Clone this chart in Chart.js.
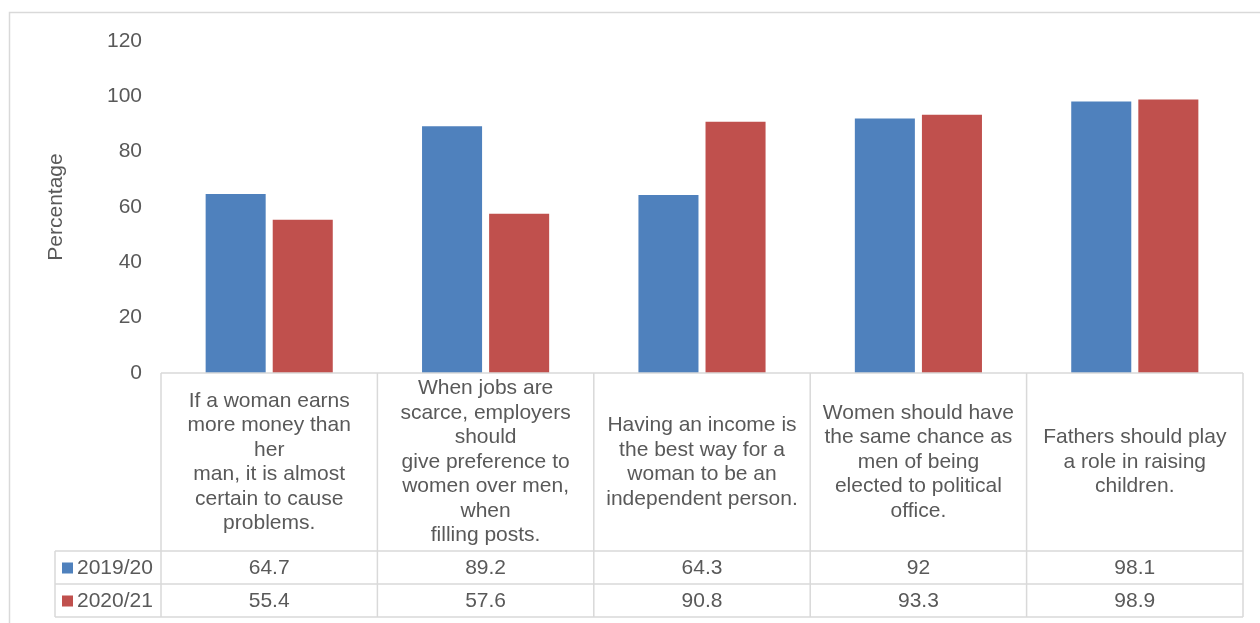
<!DOCTYPE html>
<html>
<head>
<meta charset="utf-8">
<script src="https://cdn.jsdelivr.net/npm/chart.js@4/dist/chart.umd.min.js"></script>
<style>
  html, body { margin: 0; padding: 0; background: #ffffff; }
  #wrap { position: relative; width: 1260px; height: 623px; }
</style>
</head>
<body>
<div id="wrap"><canvas id="chart"></canvas></div>
<script>
// Survey statements (line breaks as shown in the data table)
const categories = [
  ["If a woman earns", "more money than", "her", "man, it is almost", "certain to cause", "problems."],
  ["When jobs are", "scarce, employers", "should", "give preference to", "women over men,", "when", "filling posts."],
  ["Having an income is", "the best way for a", "woman to be an", "independent person."],
  ["Women should have", "the same chance as", "men of being", "elected to political", "office."],
  ["Fathers should play", "a role in raising", "children."]
];
const seriesNames = ["2019/20", "2020/21"];
const values2019 = [64.7, 89.2, 64.3, 92, 98.1];
const values2020 = [55.4, 57.6, 90.8, 93.3, 98.9];
const yTicks = [0, 20, 40, 60, 80, 100, 120];

const BLUE = '#4f81bd';
const RED = '#c0504d';
const TEXT = '#595959';
const LINE = '#d9d9d9';
const FONT = '"Liberation Sans", Arial, sans-serif';

// Excel-style data table drawn beneath the category axis
const dataTable = {
  id: 'dataTable',
  beforeDraw(chart) {
    const ctx = chart.ctx;
    ctx.save();
    ctx.strokeStyle = LINE;
    ctx.lineWidth = 1.5;
    ctx.strokeRect(9.5, 12.5, 1400, 800);
    ctx.restore();
  },
  afterDraw(chart) {
    const ctx = chart.ctx;
    const x = chart.scales.x;
    const area = chart.chartArea;
    const n = chart.data.labels.length;
    const colW = (area.right - area.left) / n;
    const top = area.bottom;
    const headBottom = top + 178;
    const row1Bottom = headBottom + 33;
    const row2Bottom = row1Bottom + 33;
    const legendLeft = 55;

    ctx.save();
    ctx.strokeStyle = LINE;
    ctx.lineWidth = 1.5;
    ctx.beginPath();
    // horizontal rules
    ctx.moveTo(area.left, top); ctx.lineTo(area.right, top);
    [headBottom, row1Bottom, row2Bottom].forEach(y => {
      ctx.moveTo(legendLeft, y); ctx.lineTo(area.right, y);
    });
    // vertical rules
    for (let i = 0; i <= n; i++) {
      const vx = area.left + i * colW;
      ctx.moveTo(vx, top); ctx.lineTo(vx, row2Bottom);
    }
    ctx.moveTo(legendLeft, headBottom); ctx.lineTo(legendLeft, row2Bottom);
    ctx.stroke();

    ctx.fillStyle = TEXT;
    ctx.font = '21px ' + FONT;
    ctx.textAlign = 'center';
    ctx.textBaseline = 'middle';
    const lh = 24.5;
    chart.data.labels.forEach((lines, i) => {
      const cx = x.getPixelForValue(i);
      const cy = (top + headBottom) / 2;
      const startY = cy - (lines.length - 1) * lh / 2;
      lines.forEach((t, k) => ctx.fillText(t, cx, startY + k * lh));
    });

    const rows = [[row1Bottom - 33, row1Bottom], [row2Bottom - 33, row2Bottom]];
    chart.data.datasets.forEach((ds, r) => {
      const cy = (rows[r][0] + rows[r][1]) / 2 + 0.5;
      ctx.textAlign = 'center';
      ds.data.forEach((v, i) => {
        ctx.fillText(String(v), x.getPixelForValue(i), cy);
      });
      ctx.fillStyle = ds.backgroundColor;
      ctx.fillRect(62, cy - 5.5, 11, 11);
      ctx.fillStyle = TEXT;
      ctx.textAlign = 'left';
      ctx.fillText(ds.label, 77, cy);
    });
    ctx.restore();
  }
};

new Chart(document.getElementById('chart'), {
  type: 'bar',
  data: {
    labels: categories,
    datasets: [
      { label: seriesNames[0], data: values2019, backgroundColor: BLUE },
      { label: seriesNames[1], data: values2020, backgroundColor: RED }
    ]
  },
  options: {
    responsive: true,
    maintainAspectRatio: false,
    animation: false,
    layout: { padding: { left: 0, right: 17, top: 41, bottom: 250 } },
    datasets: { bar: { categoryPercentage: 0.62, barPercentage: 0.895 } },
    plugins: { legend: { display: false }, tooltip: { enabled: false } },
    scales: {
      x: {
        grid: { display: false },
        border: { display: false },
        ticks: { display: false },
        afterFit(scale) { scale.height = 0; }
      },
      y: {
        min: 0,
        max: 120,
        afterBuildTicks(scale) { scale.ticks = yTicks.map(v => ({ value: v })); },
        afterFit(scale) { scale.width = 161; },
        grid: { display: false, drawTicks: false },
        border: { display: false },
        ticks: { color: TEXT, padding: 19, font: { family: FONT, size: 21 } },
        title: {
          display: true,
          text: 'Percentage',
          color: TEXT,
          font: { family: FONT, size: 21 },
          padding: { top: 44, bottom: 0 }
        }
      }
    }
  },
  plugins: [dataTable]
});
</script>
</body>
</html>
